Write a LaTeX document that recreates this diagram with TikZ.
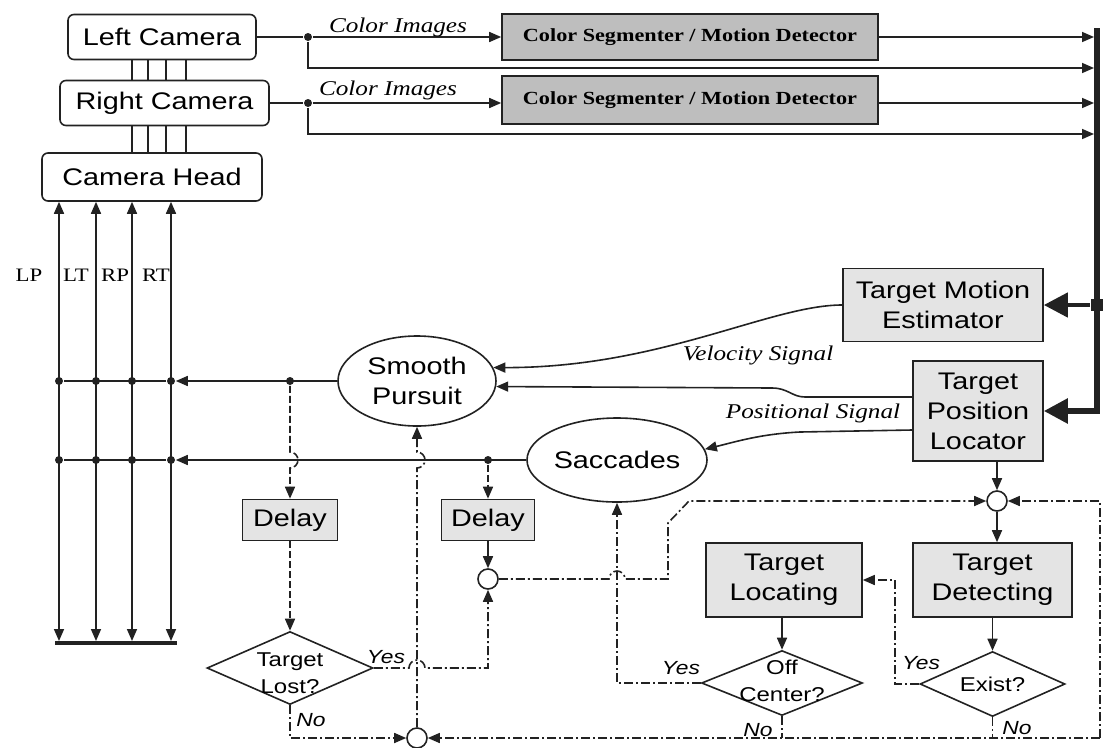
\documentclass[tikz,border=0pt]{standalone}
\usepackage{fontspec}
\setmainfont{Liberation Serif}
\newfontfamily\sfw[FakeStretch=1.2]{Liberation Sans}
\newfontfamily\rmw[FakeStretch=1.2]{Liberation Serif}
\usetikzlibrary{arrows.meta,shapes.geometric}
\definecolor{segfill}{HTML}{BEBEBE}
\definecolor{boxfill}{HTML}{E4E4E4}
\definecolor{ink}{HTML}{222222}
\begin{document}
\begin{tikzpicture}[x=1pt,y=-1pt,line width=1.6pt,draw=ink,
  cam/.style={draw, rounded corners=6pt, inner sep=0pt, font=\sfw\fontsize{24}{29}\selectfont},
  seg/.style={draw, fill=segfill, inner sep=0pt, font=\rmw\bfseries\fontsize{18.5}{22}\selectfont},
  gbox/.style={draw, fill=boxfill, inner sep=0pt, align=center, font=\sfw\fontsize{24}{30}\selectfont},
  oval/.style={draw, ellipse, inner sep=0pt, align=center, font=\sfw\fontsize{24}{30}\selectfont},
  dia/.style={draw, diamond, inner sep=0pt},
  dtext/.style={align=center, font=\sfw\fontsize{20}{27}\selectfont},
  jdot/.style={circle, fill=ink, inner sep=0pt, minimum size=8pt},
  sumc/.style={circle, draw, fill=white, inner sep=0pt, minimum size=20pt},
  lab/.style={font=\rmw\itshape\fontsize{21}{24}\selectfont},
  yn/.style={font=\sfw\itshape\fontsize{19}{22}\selectfont},
  sig/.style={font=\rmw\fontsize{19}{22}\selectfont},
  arr/.style={-{Triangle[length=12pt,width=10pt]}},
  arrb/.style={{Triangle[length=12pt,width=10pt]}-{Triangle[length=12pt,width=10pt]}},
  bigarr/.style={-{Triangle[length=24pt,width=24pt]}},
  dd/.style={dash pattern=on 9pt off 3pt on 2pt off 3pt},
  dsh/.style={dash pattern=on 7pt off 3pt}]
\useasboundingbox (0,0) rectangle (1107,747);

% cameras
\node[cam, minimum width=188pt, minimum height=45pt] (lcam) at (162,37) {Left Camera};
\node[cam, minimum width=209pt, minimum height=45pt] (rcam) at (164.5,103) {Right Camera};
\node[cam, minimum width=220pt, minimum height=48pt] (head) at (152,177) {Camera Head};
\foreach \x/\w in {132/1.2pt,148/2pt,166/1.2pt,186/2pt}{
  \draw[line width=\w] (\x,0 |- lcam.south) -- (\x,0 |- rcam.north);
  \draw[line width=\w] (\x,0 |- rcam.south) -- (\x,0 |- head.north);
}

% segmenters
\node[seg, minimum width=376pt, minimum height=46pt] (seg1) at (690,37) {Color Segmenter / Motion Detector};
\node[seg, minimum width=376pt, minimum height=48pt] (seg2) at (690,100) {Color Segmenter / Motion Detector};
\node[jdot] (j1) at (308,37) {};
\node[jdot] (j2) at (308,103) {};
\draw (lcam.east) -- (j1);
\draw (rcam.east |- j2) -- (j2);
\draw[arr] (j1) -- (seg1.west);
\draw[arr] (j2) -- (j2 -| seg2.west);
\node[lab] (ci1) at (398,27) {Color Images};
\node[lab] (ci2) at (388,90) {Color Images};

% bus
\coordinate (bt) at (1097,28);
\coordinate (b1) at (1094,37);
\coordinate (b2) at (1094,68);
\coordinate (b3) at (1094,103);
\coordinate (b4) at (1094,134);
\draw[arr] (seg1.east) -- (b1);
\draw[arr] (j1) |- (b2);
\draw[arr] (seg2.east |- b3) -- (b3);
\draw[arr] (j2) |- (b4);

% estimator / locator
\node[gbox, minimum width=200pt, minimum height=73pt] (tme) at (943,305) {Target Motion\\Estimator};
\node[gbox, minimum width=130pt, minimum height=100pt] (tpl) at (978,411) {Target\\Position\\Locator};
\coordinate (bb) at (1097,411);
\draw[line width=5.5pt, bigarr] (bt) -- (bb) -- (tpl.east);
\node[fill=ink, minimum size=12pt, inner sep=0pt] (bsq) at (1097,305) {};
\draw[line width=4.5pt, bigarr] (bsq) -- (tme.east);

% ovals
\node[oval, minimum width=158pt, minimum height=90pt] (sp) at (417,381) {Smooth\\Pursuit};
\node[oval, minimum width=180pt, minimum height=84pt] (sac) at (617,460) {Saccades};

\draw[arr] (tme.west) .. controls (770,305) and (660,368) .. (sp.10);
\draw[arr] ([yshift=14pt]tpl.west) -- (805,397) .. controls (792,397) and (788,388) .. (772,388) -- (sp.-4);
\draw[arr] ([yshift=-19pt]tpl.west) -- (800,432) .. controls (760,434) and (735,442) .. (sac.7);
\node[lab] (vs) at (758,355) {Velocity Signal};
\node[lab] (ps) at (813,413) {Positional Signal};

% left verticals
\coordinate (v1) at (59,641);
\coordinate (v2) at (96,641);
\coordinate (v3) at (132,641);
\coordinate (v4) at (171,641);
\foreach \v in {v1,v2,v3,v4}{\draw[arrb] (\v) -- (\v |- head.south);}
\coordinate (barl) at (55,643);
\coordinate (barr) at (177,643);
\draw[line width=3.5pt] (barl) -- (barr);
\node[sig] (lp) at (29,275) {LP};
\node[sig] (lt) at (76,275) {LT};
\node[sig] (rp) at (115,275) {RP};
\node[sig] (rt) at (156,275) {RT};

\node[jdot] (r11) at (59,381) {};
\node[jdot] (r12) at (96,381) {};
\node[jdot] (r13) at (132,381) {};
\node[jdot] (r14) at (171,381) {};
\node[jdot] (r15) at (290,381) {};
\node[jdot] (r21) at (59,460) {};
\node[jdot] (r22) at (96,460) {};
\node[jdot] (r23) at (132,460) {};
\node[jdot] (r24) at (171,460) {};
\node[jdot] (r25) at (488,460) {};
\draw[arr] (sp.west) -- (r14);
\draw (r14) -- (r11);
\draw[arr] (sac.west) -- (r24);
\draw (r24) -- (r21);

% delays
\node[gbox, minimum width=95pt, minimum height=41pt] (d1) at (290,520) {Delay};
\node[gbox, minimum width=93pt, minimum height=41pt] (d2) at (488,520) {Delay};
\draw[dsh, arr] (r15) -- (290,452) arc[start angle=90, end angle=-90, radius=8pt] -- (d1.north);
\draw[dsh, arr] (r25) -- (d2.north);

% sum circles
\node[sumc] (c1) at (488,579) {};
\node[sumc] (ctop) at (997,501) {};
\node[sumc] (cbot) at (417,738) {};
\draw[arr] (d2.south) -- (c1.north);

% diamonds
\node[dia, minimum width=166pt, minimum height=73pt] (lost) at (290,668) {};
\node[dtext] (lostt) at (290,673) {Target\\Lost?};
\draw[dsh, arr] (d1.south) -- (lost.north);

\node[gbox, minimum width=156pt, minimum height=74pt] (tloc) at (784,580) {Target\\Locating};
\node[gbox, minimum width=159pt, minimum height=74pt] (tdet) at (992.5,580) {Target\\Detecting};
\node[dia, minimum width=161pt, minimum height=65pt] (off) at (782,683) {};
\node[dtext] (offt) at (782,681) {Off\\Center?};
\node[dia, minimum width=145pt, minimum height=65pt] (exist) at (992.5,684) {};
\node[dtext] (existt) at (992.5,684) {Exist?};

\draw[arr] (ctop |- tpl.south) -- (ctop.north);
\draw[arr] (ctop.south) -- (ctop |- tdet.north);
\draw[arr] (tdet.south) -- (exist.north);
\draw[arr] (tloc.south -| off.north) -- (off.north);

% control loops
\draw[dd, arr] (cbot.north) -- (417,468) arc[start angle=-90, end angle=90, radius=8pt] -- (sp.south);
\draw[dd, arr] (lost.east) -- (409,668) arc[start angle=180, end angle=0, radius=8pt] -| (c1.south);
\draw[dd, arr] (lost.south) |- (cbot.west);
\draw[dd, arr] (c1.east) -- (609,579) arc[start angle=180, end angle=0, radius=8pt] -- (668,579) -- (668,523) -- (689,501) -- (ctop.west);
\draw[dd, arr] (off.west) -| (sac.south);
\draw[dd, arr] (exist.west) -- (895,684) |- (tloc.east);
\coordinate (rl) at (1100,738);
\draw[dd, arr] (rl) -- (cbot.east);
\draw[dd, arr] (rl) |- (ctop.east);
\draw[dd] (exist.south) -- (exist.south |- rl);
\draw[dd] (off.south) -- (off.south |- rl);

\node[yn] (y1) at (386,657) {Yes};
\node[yn] (n1) at (311,720) {No};
\node[yn] (y2) at (681,668) {Yes};
\node[yn] (n2) at (758,730) {No};
\node[yn] (y3) at (921,663) {Yes};
\node[yn] (n3) at (1017,728) {No};
\end{tikzpicture}
\end{document}
